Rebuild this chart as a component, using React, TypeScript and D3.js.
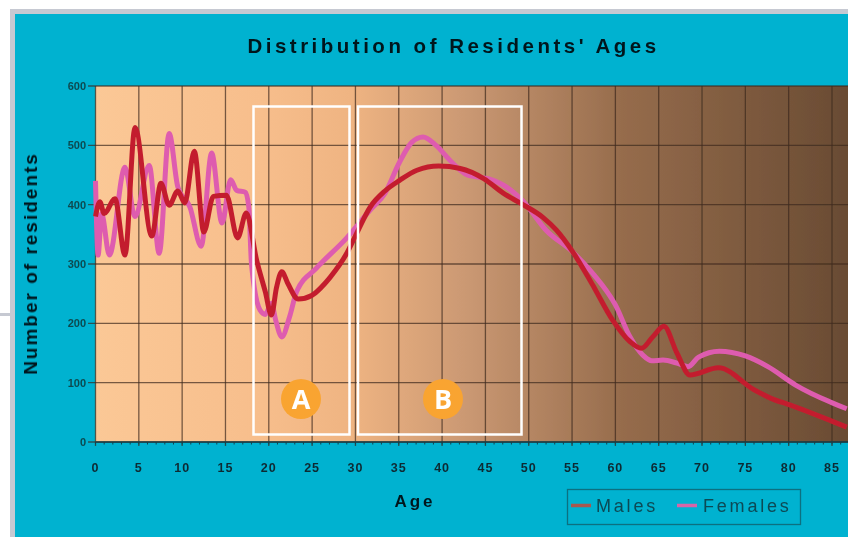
import React from "react";
import * as d3 from "d3";

const title = "Distribution of Residents' Ages";
const xTicks = d3.range(0, 90, 5);
const xMinor = d3.range(0, 88, 1);
const yTicks = [0, 100, 200, 300, 400, 500, 600];

const maleAges = [0, 0.5, 1, 2.25, 3.4, 4.56, 6.5, 7.55, 8.5, 9.5, 10.3, 11.4, 12.5, 13.6, 15.1, 16.4, 17.4, 18.6, 19.6, 20.3, 20.9, 21.5, 22.2, 23.4, 24.95, 27.1, 29, 30.15, 31.7, 33.4, 35.1, 37.1, 39.6, 42.1, 44.8, 47.1, 49.1, 51.6, 53.2, 55.1, 57.4, 59.7, 61.7, 63, 64.3, 65.6, 67.1, 68.6, 71.9, 76, 77.9, 80.2, 83.3, 86.7];
const maleValues = [380, 405, 385, 410, 315, 530, 347, 436, 399, 423, 403, 490, 354, 414, 416, 344, 386, 306, 253, 214, 261, 287, 267, 241, 247, 278, 318, 352, 396, 423, 441, 458, 465, 461, 444, 419, 402, 379, 357, 320, 264, 205, 169, 158, 177, 195, 150, 113, 125, 88, 74, 62, 45, 25];
const femaleAges = [0, 0.3, 0.7, 1.6, 3.4, 4.55, 6.2, 7.35, 8.5, 9.5, 10.9, 12.2, 13.4, 14.6, 15.6, 16.3, 17.3, 17.7, 18, 19, 19.6, 20.3, 20.8, 21.5, 22.4, 23.2, 25.5, 29, 31.7, 33.4, 35.1, 36.5, 37.8, 39.3, 40.9, 42.9, 45.5, 47.4, 49.4, 52, 55.1, 57.4, 60, 61.7, 63.2, 64.2, 65.5, 67.1, 68.4, 69.6, 72, 75, 77.6, 80.8, 86.7];
const femaleValues = [440, 315, 385, 315, 463, 380, 466, 318, 520, 430, 396, 330, 487, 369, 442, 424, 421, 395, 301, 222, 215, 234, 205, 177, 211, 253, 293, 344, 391, 419, 472, 505, 514, 500, 475, 450, 443, 430, 405, 357, 320, 284, 231, 177, 146, 137, 138, 133, 127, 143, 153, 145, 127, 96, 56];

const W = 848, H = 537;
const TEAL = "#00B2D0";
const x = d3.scaleLinear().domain([0, 85]).range([95.5, 832]);
const y = d3.scaleLinear().domain([0, 600]).range([442, 86]);
const gridRight = W;

const pts = (a: number[], v: number[]) => a.map((d, i) => [x(d), y(v[i])] as [number, number]);
const line = d3.line().curve(d3.curveMonotoneX);

const font = "'Liberation Sans', Arial, sans-serif";

export default function App() {
  return (
    <svg width={W} height={H} viewBox={`0 0 ${W} ${H}`} style={{ position: "absolute", left: 0, top: 0, display: "block", background: "#fff" }} fontFamily={font}>
      <defs>
        <linearGradient id="plotBg" gradientUnits="userSpaceOnUse" x1={95} x2={848} y1={0} y2={0}>
          <stop offset="0" stopColor="#FBC896" />
          <stop offset="0.22" stopColor="#F7BE8C" />
          <stop offset="0.34" stopColor="#EFB482" />
          <stop offset="0.5" stopColor="#C99772" />
          <stop offset="0.7" stopColor="#966C4C" />
          <stop offset="1" stopColor="#694B33" />
        </linearGradient>
        <filter id="soft" x="-5%" y="-5%" width="110%" height="110%">
          <feGaussianBlur stdDeviation="0.7" />
        </filter>
      </defs>
      <rect x={0} y={313} width={10} height={3} fill="#C6C9D2" />
      <rect x={10} y={9} width={W - 10} height={H - 9} fill="#C6C9D2" />
      <rect x={15} y={14} width={W - 15} height={H - 14} fill={TEAL} />
      <g filter="url(#soft)">
        <text x={453.5} y={53} textAnchor="middle" fontSize={20.5} fontWeight={700} letterSpacing={3.5} fill="#04181F">{title}</text>
        <rect x={x(0)} y={y(600)} width={W - x(0)} height={y(0) - y(600)} fill="url(#plotBg)" />
        {yTicks.map(t => (
          <line key={t} x1={88} x2={gridRight} y1={y(t)} y2={y(t)} stroke="#3D2A1E" strokeOpacity={0.7} strokeWidth={1.3} />
        ))}
        {xTicks.map(t => (
          <line key={t} x1={x(t)} x2={x(t)} y1={y(600)} y2={y(0) + 4} stroke="#3D2A1E" strokeOpacity={0.7} strokeWidth={1.3} />
        ))}
        <line x1={x(0)} x2={W} y1={y(0)} y2={y(0)} stroke="#17414A" strokeWidth={1.3} />
        {xMinor.map(t => (
          <line key={t} x1={x(t)} x2={x(t)} y1={y(0)} y2={y(0) + 2.5} stroke="#17414A" strokeWidth={1} />
        ))}
        {yTicks.map(t => (
          <text key={t} x={86} y={y(t) + 4} textAnchor="end" fontSize={11} fontWeight={700} fill="#0B4A50">{t}</text>
        ))}
        {xTicks.map(t => (
          <text key={t} x={x(t)} y={472} textAnchor="middle" fontSize={12.5} fontWeight={700} letterSpacing={1} fill="#0E2A33">{t}</text>
        ))}
        <text x={415} y={507} textAnchor="middle" fontSize={17} fontWeight={700} letterSpacing={3} fill="#04181F">Age</text>
        <text transform="translate(37,263.5) rotate(-90)" textAnchor="middle" fontSize={19} fontWeight={700} letterSpacing={2} fill="#04181F">Number of residents</text>
        <path d={line(pts(femaleAges, femaleValues)) ?? ""} fill="none" stroke="#DE5CAF" strokeWidth={5} strokeLinejoin="round" />
        <path d={line(pts(maleAges, maleValues)) ?? ""} fill="none" stroke="#C31F2E" strokeWidth={5} strokeLinejoin="round" />
        <rect x={567.5} y={489.5} width={233} height={35} fill="none" stroke="#0A7080" strokeWidth={1.3} />
        <line x1={571} x2={591} y1={505.5} y2={505.5} stroke="#A8584F" strokeWidth={3.5} />
        <text x={596} y={512} fontSize={18} letterSpacing={2.8} fill="#0B4A55">Males</text>
        <line x1={677} x2={697} y1={505.5} y2={505.5} stroke="#D765A8" strokeWidth={3.5} />
        <text x={703} y={512} fontSize={18} letterSpacing={2.8} fill="#0B4A55">Females</text>
      </g>
      <rect x={253.5} y={106.5} width={96} height={328} fill="none" stroke="#fff" strokeWidth={2.5} />
      <rect x={358} y={106.5} width={163.5} height={328} fill="none" stroke="#fff" strokeWidth={2.5} />
      <circle cx={301} cy={399} r={20} fill="#F9A431" />
      <circle cx={443} cy={399} r={20} fill="#F9A431" />
      <text x={301} y={409} textAnchor="middle" fontSize={27} fontWeight={700} fontFamily="'Open Sans', sans-serif" fill="#fff">A</text>
      <text x={443} y={409} textAnchor="middle" fontSize={27} fontWeight={700} fontFamily="'Open Sans', sans-serif" fill="#fff">B</text>
    </svg>
  );
}
